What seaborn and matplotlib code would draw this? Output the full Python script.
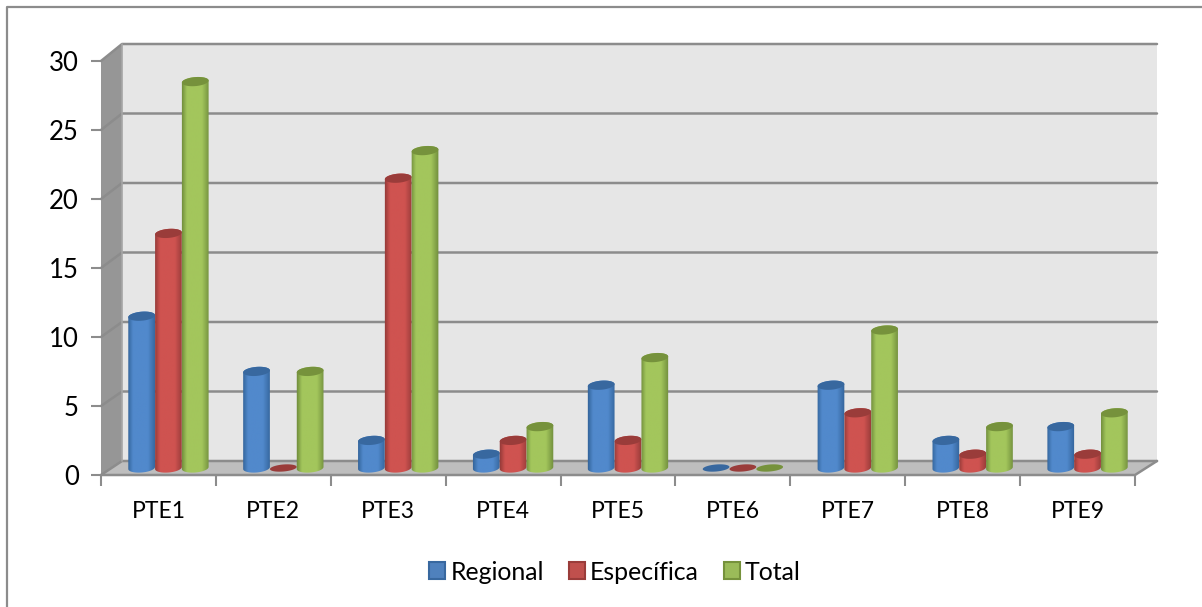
import numpy as np
import pandas as pd
import matplotlib
matplotlib.use('Agg')
import matplotlib.pyplot as plt
import seaborn as sns
from matplotlib.colors import LinearSegmentedColormap
from matplotlib.patches import Polygon, Rectangle

categories = ['PTE1', 'PTE2', 'PTE3', 'PTE4', 'PTE5', 'PTE6', 'PTE7', 'PTE8', 'PTE9']
regional = [11, 7, 2, 1, 6, 0, 6, 2, 3]
especifica = [17, 0, 21, 2, 2, 0, 4, 1, 1]
total = [28, 7, 23, 3, 8, 0, 10, 3, 4]
series_names = ['Regional', 'Específica', 'Total']
y_ticks = [0, 5, 10, 15, 20, 25, 30]

W, H = 1202, 607
# edge, centre, cap, legend colours of each cylinder
colours = {
    'Regional': ('#2f5f94', '#5189cc', '#38689f', '#4f81bd'),
    'Específica': ('#8e3735', '#cf5350', '#9a3c3a', '#c0504d'),
    'Total': ('#6a8638', '#a3c65c', '#76923c', '#9bbb59'),
}

df = pd.DataFrame({'cat': categories, 'Regional': regional, 'Específica': especifica, 'Total': total})
long_df = df.melt(id_vars='cat', var_name='serie', value_name='valor')

sns.set_theme(style='white')
plt.rcParams['font.family'] = ['Lato', 'DejaVu Sans']


def box(px_left, px_bottom, px_w, px_h):
    return [px_left / W, 1 - px_bottom / H, px_w / W, px_h / H]


fig = plt.figure(figsize=(W / 100, H / 100), dpi=100, facecolor='white')

# the walls of the 3d box, in pixels
bg = fig.add_axes([0, 0, 1, 1], zorder=0)
bg.set_xlim(0, W)
bg.set_ylim(H, 0)
bg.axis('off')
bg.plot([7, 7, W], [H, 7, 7], color='#8c8c8c', lw=1.6, solid_capstyle='butt')
bg.add_patch(Polygon([(122, 44), (1157, 44), (1157, 461), (122, 461)], fc='#e6e6e6', ec='none'))
bg.add_patch(Polygon([(101, 61), (122, 44), (122, 461), (101, 475)], fc='#969696', ec='none'))
bg.add_patch(Polygon([(101, 475), (122, 461), (1157, 461), (1135, 475)], fc='#bebebe', ec='none'))
for v in y_ticks:
    yb = 461 - v * 13.9
    yf = 475 - v * 13.8
    bg.plot([101, 122, 1157], [yf, yb, yb], color='#8c8c8c', lw=1.8)
bg.plot([101, 1135, 1157], [475, 475, 461], color='#8c8c8c', lw=1.8)
bg.plot([122, 122], [44, 461], color='#a6a6a6', lw=1.2)

# front plane, only for the ticks and labels
front = fig.add_axes(box(101, 475, 1034, 414), zorder=1)
front.patch.set_alpha(0)
front.set_xlim(-0.5, 8.5)
front.set_ylim(0, 30)
front.set_xticks(np.arange(-0.5, 9, 1))
front.set_xticklabels([])
front.set_xticks(range(9), categories, minor=True)
front.set_yticks(y_ticks)
front.tick_params(axis='x', which='major', length=8, width=1.5, color='#8c8c8c', bottom=True)
front.tick_params(axis='x', which='minor', length=0, labelsize=16.5, pad=19, labelcolor='black')
front.tick_params(axis='y', length=7, width=1.5, color='#8c8c8c', left=True, labelsize=18.5, pad=9, labelcolor='black')
sns.despine(ax=front, left=True, bottom=True)

# bars sit half way into the floor
ax = fig.add_axes(box(111, 468, 1034, 414), zorder=2)
ax.patch.set_alpha(0)
sns.barplot(data=long_df, x='cat', y='valor', hue='serie', hue_order=series_names,
            width=0.7, gap=0, dodge=True, ax=ax, legend=False, errorbar=None)
ax.set_xlim(-0.5, 8.5)
ax.set_ylim(0, 30)
ax.axis('off')
ax.set_autoscale_on(False)

px_x = 1034 / 9
px_y = 414 / 30
tilt = np.radians(5)


def ellipse_pts(cx, cy, half_w, half_h, t):
    # tilted ellipse, worked out in pixels then put back into data units
    ex = half_w * np.cos(t)
    ey = half_h * np.sin(t)
    xp = ex * np.cos(tilt) - ey * np.sin(tilt)
    yp = ex * np.sin(tilt) + ey * np.cos(tilt)
    return np.column_stack([cx + xp / px_x, cy + yp / px_y])


n_cat = len(categories)
for i, name in enumerate(series_names):
    edge, mid, cap, _ = colours[name]
    cmap = LinearSegmentedColormap.from_list(name, [(0, edge), (0.2, mid), (0.7, mid), (1, edge)], N=64)
    grad = np.linspace(0, 1, 64).reshape(1, -1)
    for j, patch in enumerate(ax.patches[i * n_cat:(i + 1) * n_cat]):
        x0 = patch.get_x()
        bw = patch.get_width()
        h = patch.get_height()
        cx = x0 + bw / 2
        patch.set_visible(False)
        half_w = bw * px_x / 2
        z = 3 + i
        if h > 0:
            bottom = ellipse_pts(cx, 0, half_w, 4.5, np.linspace(np.pi, 2 * np.pi, 30))
            top = ellipse_pts(cx, h, half_w, 4.5, np.linspace(0, np.pi, 30))
            body = Polygon(np.vstack([bottom, top]), transform=ax.transData, fc='none', ec='none', clip_on=False)
            ax.add_patch(body)
            im = ax.imshow(grad, cmap=cmap, aspect='auto', zorder=z,
                           extent=[x0 - 0.01, x0 + bw + 0.01, -1, h + 1], interpolation='bilinear')
            # the base of the cylinder hangs below the axes box
            im.set_clip_box(fig.bbox)
            im.set_clip_path(body)
        lid = ellipse_pts(cx, h, half_w, 4.5 if h > 0 else 3.5, np.linspace(0, 2 * np.pi, 60))
        ax.add_patch(Polygon(lid, fc=cap, ec='none', zorder=z + 0.5, clip_on=False))

# legend
handles = []
for name in series_names:
    handles.append(Rectangle((0, 0), 1, 1, fc=colours[name][3], ec=colours[name][2], lw=1.5))
fig.legend(handles, series_names, loc='center', bbox_to_anchor=(615 / W, 1 - 572 / H), ncol=3,
           frameon=False, fontsize=17.9, handlelength=0.65, handleheight=0.65,
           handletextpad=0.2, columnspacing=1.0, labelcolor='black')

fig.savefig('out.png', dpi=100)
plt.close()
